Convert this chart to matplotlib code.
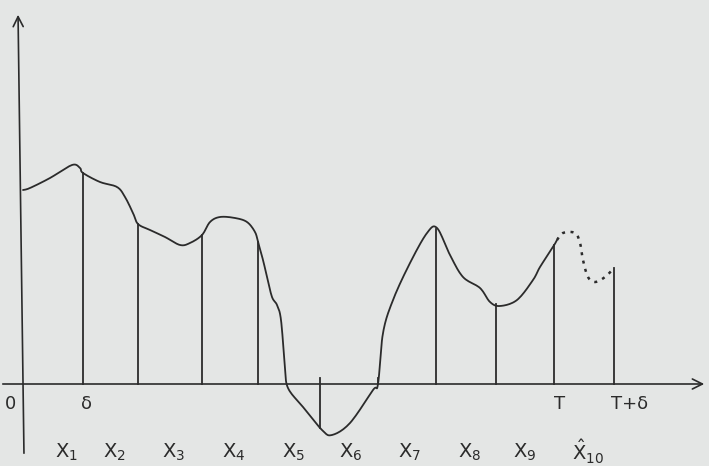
import numpy as np
import matplotlib.pyplot as plt

# courbe tracée à la main (t = abscisse, y = ordonnée, origine au croisement des axes)
curve_t = [0, 7, 27, 49, 57, 60, 77, 94, 102, 110, 115, 127, 142, 157, 167, 179, 187,
           197, 212, 224, 232, 235, 240, 244, 249, 254, 258, 262, 265, 280, 299, 309,
           327, 350, 355, 360, 370, 387, 404, 414, 427, 440, 457, 467, 477, 494, 510,
           517, 530, 534]
curve_y = [194, 196, 206, 219, 216, 211, 202, 197, 187, 171, 160, 154, 147, 139, 141,
           149, 162, 167, 166, 162, 152, 142, 124, 107, 87, 79, 64, 17, -4, -23, -46,
           -51, -39, -6, 0, 51, 84, 121, 151, 156, 129, 107, 96, 82, 78, 84, 104, 117,
           137, 144]

# prolongement prévu (pointillés) entre T et T+delta
pred_t = [534, 540, 552, 557, 560, 565, 572, 582, 591]
pred_y = [144, 151, 151, 141, 124, 107, 102, 107, 116]

# abscisses des traits verticaux
line_t = [60, 115, 179, 235, 297, 355, 413, 473, 531, 591]

tick_labels = ["0", "δ", "T", "T+δ"]
tick_t = [-13, 64, 537, 607]
x_labels = [r"$\mathsf{X}_{1}$", r"$\mathsf{X}_{2}$", r"$\mathsf{X}_{3}$", r"$\mathsf{X}_{4}$",
            r"$\mathsf{X}_{5}$", r"$\mathsf{X}_{6}$", r"$\mathsf{X}_{7}$", r"$\mathsf{X}_{8}$",
            r"$\mathsf{X}_{9}$", r"$\hat{\mathsf{X}}_{10}$"]
x_label_t = [43, 91, 151, 211, 271, 328, 387, 447, 502, 565]

ink = "#2b2b2b"
paper = "#e4e6e5"


def lisser(xs, ys, n=12):
    """Catmull-Rom : lisse le tracé en passant par chaque point."""
    p = np.column_stack([xs, ys]).astype(float)
    p = np.vstack([p[0], p, p[-1]])
    out = []
    s = np.linspace(0, 1, n, endpoint=False)[:, None]
    for i in range(1, len(p) - 2):
        p0, p1, p2, p3 = p[i - 1], p[i], p[i + 1], p[i + 2]
        seg = 0.5 * ((2 * p1) + (-p0 + p2) * s + (2 * p0 - 5 * p1 + 4 * p2 - p3) * s ** 2
                     + (-p0 + 3 * p1 - 3 * p2 + p3) * s ** 3)
        out.append(seg)
    out.append(p[-2][None, :])
    out = np.vstack(out)
    return out[:, 0], out[:, 1]


fig = plt.figure(figsize=(7.09, 4.66), dpi=100, facecolor=paper)
ax = fig.add_axes([0, 0, 1, 1])
ax.set_facecolor(paper)
ax.set_xlim(-23, 686)
ax.set_ylim(-82, 384)
ax.axis("off")

# axes avec flèches
ax.annotate("", xy=(684, 0), xytext=(-23, 0),
            arrowprops=dict(arrowstyle="->", color=ink, lw=1.2, mutation_scale=18))
ax.annotate("", xy=(-5, 372), xytext=(1, -72),
            arrowprops=dict(arrowstyle="->", color=ink, lw=1.2, mutation_scale=18))

# courbe et prolongement
cx, cy = lisser(curve_t, curve_y)
ax.plot(cx, cy, color=ink, lw=1.3, solid_capstyle="round")
px, py = lisser(pred_t, pred_y)
ax.plot(px, py, color=ink, lw=1.8, linestyle=(0, (1.2, 2.2)))

# traits verticaux jusqu'à la courbe
all_t = curve_t + pred_t[1:]
all_y = curve_y + pred_y[1:]
for t in line_t:
    v = np.interp(t, all_t, all_y)
    top = max(v, 6)
    bottom = min(v, 0)
    ax.plot([t, t], [bottom, top], color=ink, lw=1.3)

for lab, t in zip(tick_labels, tick_t):
    ax.text(t, -20, lab, ha="center", va="center", fontsize=13, color=ink)

for lab, t in zip(x_labels, x_label_t):
    ax.text(t, -68, lab, ha="center", va="center", fontsize=14, color=ink)

fig.savefig("out.png", dpi=100, facecolor=paper)
